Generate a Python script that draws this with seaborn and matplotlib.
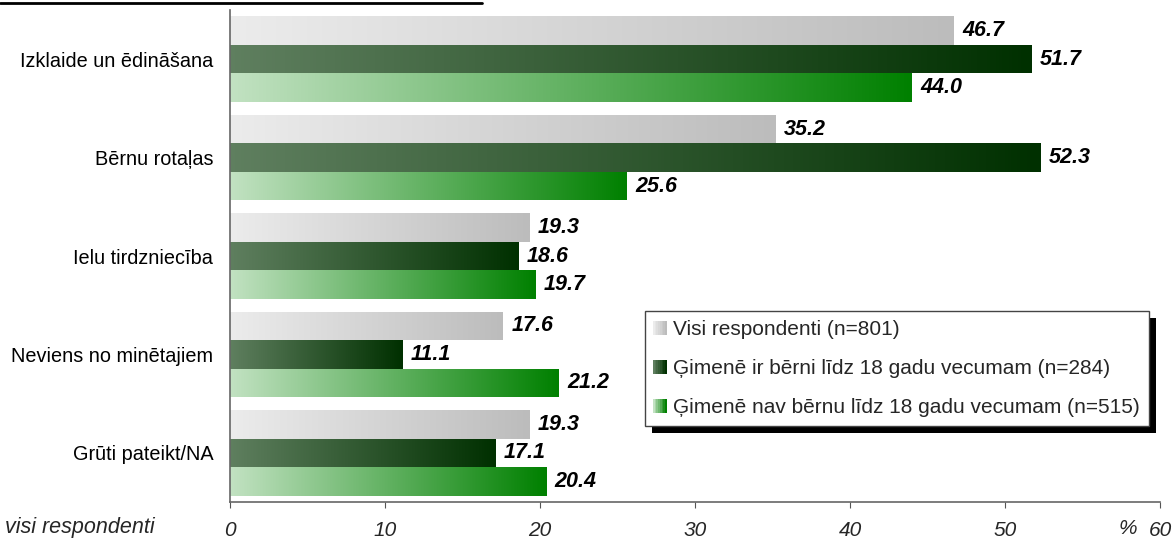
import numpy as np
import pandas as pd
import matplotlib
matplotlib.use("Agg")
import matplotlib.pyplot as plt
import seaborn as sns
from matplotlib.colors import LinearSegmentedColormap
from matplotlib.legend_handler import HandlerBase
from matplotlib.patches import Rectangle
from matplotlib.lines import Line2D

# Data
categories = ["Izklaide un ēdināšana", "Bērnu rotaļas", "Ielu tirdzniecība",
              "Neviens no minētajiem", "Grūti pateikt/NA"]
series_names = ["Visi respondenti (n=801)",
                "Ģimenē ir bērni līdz 18 gadu vecumam (n=284)",
                "Ģimenē nav bērnu līdz 18 gadu vecumam (n=515)"]
visi = [46.7, 35.2, 19.3, 17.6, 19.3]
ar_berniem = [51.7, 52.3, 18.6, 11.1, 17.1]
bez_berniem = [44.0, 25.6, 19.7, 21.2, 20.4]
x_ticks = [0, 10, 20, 30, 40, 50, 60]

df = pd.DataFrame({
    "kategorija": categories * 3,
    "grupa": [series_names[0]] * 5 + [series_names[1]] * 5 + [series_names[2]] * 5,
    "vertiba": visi + ar_berniem + bez_berniem,
})

# gradient start/end colours per series
grads = [("#ececec", "#bcbcbc"), ("#5f7f5f", "#003000"), ("#c2e2c2", "#008000")]
cmaps = [LinearSegmentedColormap.from_list(f"g{i}", g) for i, g in enumerate(grads)]

sns.set_style("white")
plt.rcParams["font.family"] = ["Liberation Sans", "DejaVu Sans"]

fig = plt.figure(figsize=(11.76, 5.41), dpi=100)
ax = fig.add_axes([230 / 1176, 1 - 502 / 541, 930 / 1176, 492 / 541])

sns.barplot(data=df, x="vertiba", y="kategorija", hue="grupa", orient="h",
            hue_order=series_names, order=categories, palette=[g[1] for g in grads],
            width=0.87, dodge=True, ax=ax, legend=False, errorbar=None)

grad_row = np.linspace(0, 1, 256).reshape(1, -1)
for i, cont in enumerate(ax.containers):
    for bar in cont:
        x0, y0 = bar.get_x(), bar.get_y()
        w, h = bar.get_width(), bar.get_height()
        bar.set_facecolor("none")
        bar.set_edgecolor("none")
        im = ax.imshow(grad_row, cmap=cmaps[i], aspect="auto",
                       extent=(x0, x0 + w, y0 + h, y0), zorder=2, interpolation="bilinear")
        im.set_clip_path(bar)
        ax.text(x0 + w + 0.55, y0 + h / 2, f"{w:.1f}", va="center", ha="left",
                fontsize=15.5, fontweight="bold", fontstyle="italic", color="black", zorder=3)

ax.set_xlim(0, 60)
ax.set_ylim(4.5, -0.5)
ax.set_xlabel("")
ax.set_ylabel("")
ax.set_xticks(x_ticks)
ax.set_xticklabels([str(t) for t in x_ticks], fontstyle="italic", fontsize=15)
ax.tick_params(axis="x", bottom=True, length=4, width=0.8, color="#555555", pad=10)
ax.tick_params(axis="y", left=False, length=0, labelsize=14.3, pad=12)
for lbl in ax.get_yticklabels():
    lbl.set_color("black")
for s in ["top", "right"]:
    ax.spines[s].set_visible(False)
for s in ["left", "bottom"]:
    ax.spines[s].set_color("#666666")
    ax.spines[s].set_linewidth(1.2)

fig.text(5 / 1176, 1 - 528 / 541, "visi respondenti", fontstyle="italic",
         fontsize=15.5, ha="left", va="center")
fig.text(1128 / 1176, 1 - 528 / 541, "%", fontstyle="italic",
         fontsize=15, ha="center", va="center")

# cut-off title underline at the top
fig.add_artist(Line2D([0, 482 / 1176], [1 - 3 / 541, 1 - 3 / 541],
                      color="black", linewidth=2, transform=fig.transFigure))


class GradHandler(HandlerBase):
    def __init__(self, cmap):
        super().__init__()
        self.cmap = cmap

    def create_artists(self, legend, orig_handle, xdescent, ydescent,
                       width, height, fontsize, trans):
        arts = []
        n = 8
        size = 10
        x0 = width - size
        for k in range(n):
            r = Rectangle((x0 + k * size / n, -ydescent + (height - size) / 2), size / n + 0.2, size,
                          facecolor=self.cmap(k / (n - 1)), edgecolor="none",
                          transform=trans)
            arts.append(r)
        return arts


handles = [Rectangle((0, 0), 1, 1) for _ in series_names]
leg = ax.legend(handles, series_names,
                handler_map={h: GradHandler(c) for h, c in zip(handles, cmaps)},
                loc="upper left", bbox_to_anchor=((645 - 230) / 930, 1 - (311 - 10) / 492),
                fontsize=15, frameon=True, fancybox=False, edgecolor="#444444",
                framealpha=1, handlelength=0.6, handletextpad=0.3,
                labelspacing=0.95, borderpad=0.45, borderaxespad=0)
leg.get_frame().set_linewidth(1.0)
leg.set_zorder(6)

fig.canvas.draw()
bb = leg.get_window_extent()
shadow = Rectangle((bb.x0 + 7, bb.y0 - 7), bb.width, bb.height, facecolor="black",
                   edgecolor="none", transform=None, zorder=5)
ax.add_artist(shadow)

fig.savefig("out.png", dpi=100)
